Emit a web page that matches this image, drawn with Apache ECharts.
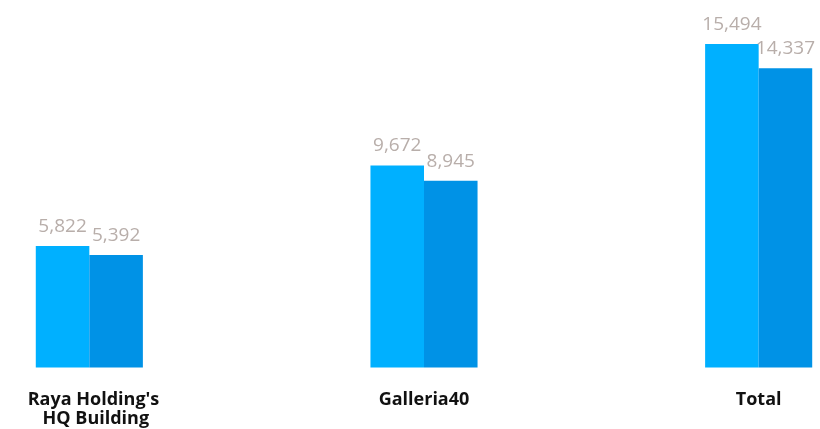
<!DOCTYPE html>
<html><head><meta charset="utf-8">
<script src="https://cdn.jsdelivr.net/npm/echarts@6/dist/echarts.min.js"></script>
<style>html,body{margin:0;padding:0;background:#fff}#c{width:820px;height:429px}</style>
</head><body><div id="c"></div>
<script>
const categories = ["Raya Holding's HQ Building", "Galleria40", "Total"];
const seriesA = [5822, 9672, 15494];
const seriesB = [5392, 8945, 14337];

const chart = echarts.init(document.getElementById('c'), null, {renderer: 'canvas'});
const labelStyle = {
  show: true, position: 'top', distance: 10,
  color: '#B8AEAA', fontSize: 19, fontFamily: 'Open Sans',
  formatter: p => p.value.toLocaleString('en-US')
};
const catData = categories.map((c, i) => i === 0 ? {value: c, textStyle: {padding: [0, 0, 0, 13]}} : c);
chart.setOption({
  animation: false,
  grid: {left: -78, width: 1004, top: 44, bottom: 61.5, containLabel: false, outerBoundsMode: 'none'},
  xAxis: {
    type: 'category', data: catData,
    axisLine: {show: false}, axisTick: {show: false},
    axisLabel: {
      interval: 0, margin: 23, color: '#111', fontWeight: 'bold', fontSize: 18,
      fontFamily: 'Open Sans', lineHeight: 19, width: 150, overflow: 'break'
    }
  },
  yAxis: {type: 'value', min: 0, max: 'dataMax', show: false, splitLine: {show: false}},
  series: [
    {type: 'bar', data: seriesA, itemStyle: {color: '#00B0FF'}, barGap: '0%', barCategoryGap: '68%', label: labelStyle},
    {type: 'bar', data: seriesB, itemStyle: {color: '#0092E6'}, barGap: '0%', barCategoryGap: '68%', label: labelStyle}
  ]
});
</script></body></html>
